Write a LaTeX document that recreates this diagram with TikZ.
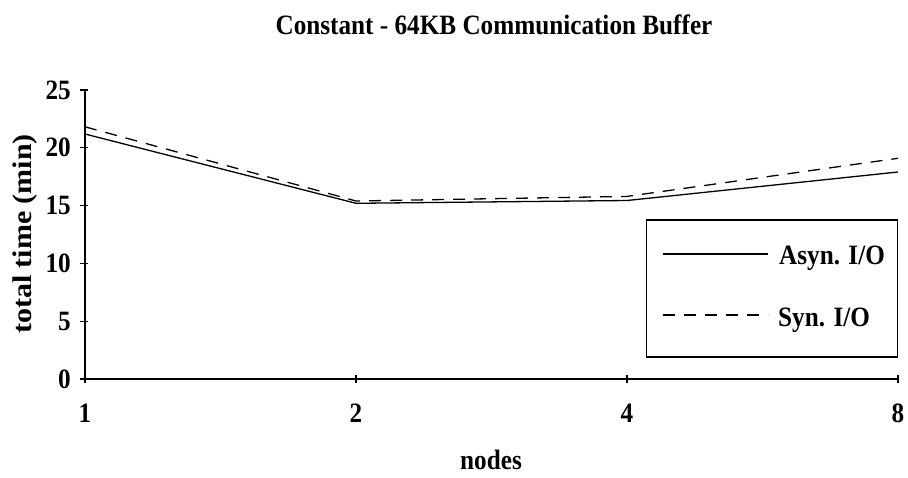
\documentclass[tikz,border=0pt]{standalone}
\usepackage{fontspec}
\setmainfont{Liberation Serif}
\begin{document}
\begin{tikzpicture}[x=1pt,y=-1pt,
  txt/.style={font=\fontsize{28}{28}\selectfont\bfseries, inner sep=0pt, xscale=0.9},
  axisline/.style={line width=1.2pt, black},
  tickmark/.style={line width=1.1pt, black},
  asyn/.style={line width=1.3pt, black},
  syn/.style={line width=1.3pt, black, dash pattern=on 12pt off 9pt},
  legendbox/.style={draw, line width=1.4pt, minimum width=251pt, minimum height=137pt, inner sep=0pt}]
  \useasboundingbox (0,0) rectangle (908,477);

  % title
  \node[txt, anchor=base] (title) at (494,34) {Constant - 64KB Communication Buffer};

  % axes
  \coordinate (origin) at (85,379);
  \coordinate (ytop) at (85,90);
  \coordinate (xend) at (898,379);
  \draw[axisline] (ytop) -- (origin) -- (xend);

  % y ticks and labels
  \foreach \v/\yy in {0/379,5/321.2,10/263.4,15/205.6,20/147.8,25/90}{
    \coordinate (yt\v) at (85,\yy);
    \draw[tickmark] ([xshift=-5pt]yt\v) -- ([xshift=3pt]yt\v);
    \node[txt, anchor=east] (yl\v) at (71,\yy) {\v};
  }

  % x ticks and labels
  \foreach \n/\xx in {1/85,2/356,4/627,8/898}{
    \coordinate (xt\n) at (\xx,379);
    \draw[tickmark] ([yshift=-4pt]xt\n) -- ([yshift=4pt]xt\n);
    \node[txt, anchor=base] (xl\n) at (\xx,422) {\n};
  }

  % axis titles
  \node[txt, anchor=base] (xlabel) at (491,469) {nodes};
  \node[font=\fontsize{30}{30}\selectfont\bfseries, inner sep=0pt, xscale=0.9, rotate=90] (ylabel) at (25,234) {total time (min)};

  % data: asynchronous I/O
  \coordinate (a1) at (85,134.0);
  \coordinate (a2) at (356,203.3);
  \coordinate (a4) at (627,200.5);
  \coordinate (a8) at (898,172.0);
  \draw[asyn] (a1) -- (a2) -- (a4) -- (a8);

  % data: synchronous I/O
  \coordinate (s1) at (85,126.8);
  \coordinate (s2) at (356,201.0);
  \coordinate (s4) at (627,196.4);
  \coordinate (s8) at (898,158.3);
  \draw[syn] (s1) -- (s2) -- (s4) -- (s8);

  % legend
  \node[legendbox] (legend) at (772.2,288.3) {};
  \coordinate (la0) at (663,254);
  \coordinate (la1) at (768,254);
  \draw[asyn] (la0) -- (la1);
  \node[txt, anchor=base west] (lta) at (779,264) {Asyn. I/O};
  \coordinate (ls0) at (663,315);
  \coordinate (ls1) at (768,315);
  \draw[syn] (ls0) -- (ls1);
  \node[txt, anchor=base west] (lts) at (778,326) {Syn. I/O};
\end{tikzpicture}
\end{document}
